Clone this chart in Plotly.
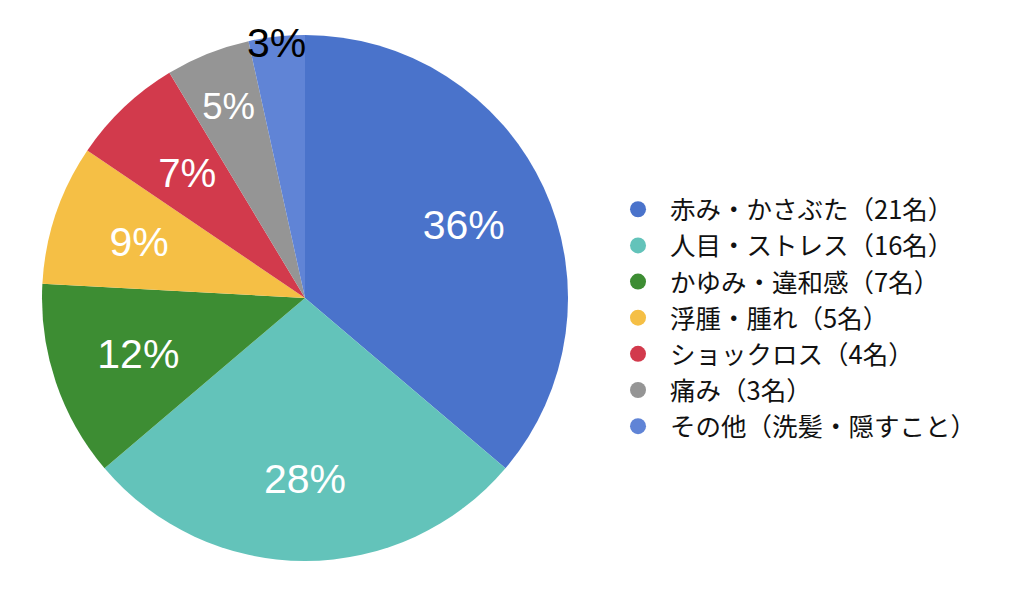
import plotly.graph_objects as go

# Reasons (counts of people) - clockwise from 12 o'clock
labels = [
    '赤み・かさぶた（21名）',
    '人目・ストレス（16名）',
    'かゆみ・違和感（7名）',
    '浮腫・腫れ（5名）',
    'ショックロス（4名）',
    '痛み（3名）',
    'その他（洗髪・隠すこと）',
]
counts = [21, 16, 7, 5, 4, 3, 2]
colors = ['#4A73CB', '#63C3BA', '#3D8D33', '#F5BF45', '#D23A4C', '#959595', '#6084D6']

W, H = 1024, 602
CX, CY, R = 297, 290, 263   # pie centre / radius in paper pixels (from top-left)
clear = ['rgba(0,0,0,0)'] * len(counts)


def domain_for(radius, cx=CX, cy=CY):
    return dict(x=[(cx - radius) / W, (cx + radius) / W],
                y=[(H - cy - radius) / H, (H - cy + radius) / H])


fig = go.Figure()

# coloured slices
fig.add_trace(go.Pie(
    labels=labels,
    values=counts,
    sort=False,
    direction='clockwise',
    rotation=0,
    marker=dict(colors=colors, line=dict(width=0)),
    textinfo='none',
    domain=domain_for(R),
    showlegend=False,
    hoverinfo='label+percent',
))


# invisible pies on top, only used to place the percentage labels
def label_pie(show, radius, hole=0, position='inside', color='white', cx=CX):
    fig.add_trace(go.Pie(
        labels=labels,
        values=counts,
        sort=False,
        direction='clockwise',
        rotation=0,
        hole=hole,
        marker=dict(colors=clear, line=dict(width=0)),
        texttemplate=['%{percent:.0%}' if i in show else '' for i in range(len(counts))],
        textposition=[position if i in show else 'none' for i in range(len(counts))],
        insidetextorientation='horizontal',
        insidetextfont=dict(color=color, size=41, family='Liberation Sans'),
        outsidetextfont=dict(color=color, size=41, family='Liberation Sans'),
        automargin=False,
        domain=domain_for(radius, cx=cx),
        showlegend=False,
        hoverinfo='skip',
    ))


label_pie([0], R, hole=0.33)
label_pie([1], R, hole=0.38)
label_pie([2], 241)
label_pie([3], 222)
label_pie([4], 208)
label_pie([5], 240)
label_pie([6], 234, position='outside', color='black', cx=CX + 38)

# legend entries with round markers
for name, col in zip(labels, colors):
    fig.add_trace(go.Scatter(
        x=[None], y=[None],
        mode='markers',
        name=name,
        marker=dict(color=col, size=30, symbol='circle'),
        showlegend=True,
    ))

fig.update_layout(
    width=W,
    height=H,
    margin=dict(l=0, r=0, t=0, b=0, autoexpand=False),
    paper_bgcolor='white',
    plot_bgcolor='white',
    xaxis=dict(visible=False),
    yaxis=dict(visible=False),
    legend=dict(
        x=0.584,
        y=0.704,
        xanchor='left',
        yanchor='top',
        font=dict(size=25.5, color='#111111', family='Noto Sans CJK JP'),
        itemsizing='trace',
        itemwidth=54,
        bgcolor='rgba(0,0,0,0)',
    ),
)

fig.write_html("out.html")
